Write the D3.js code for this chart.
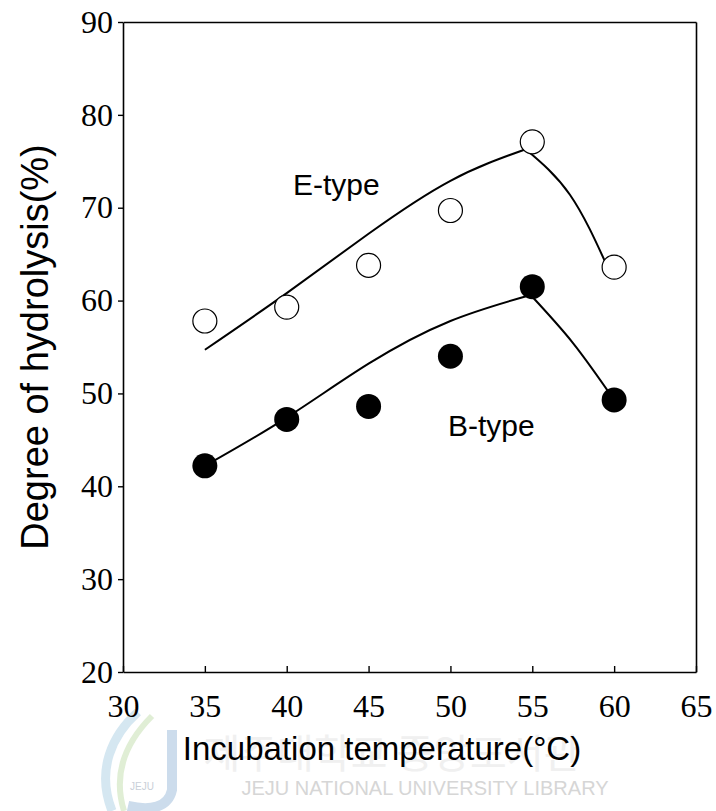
<!DOCTYPE html>
<html>
<head>
<meta charset="utf-8">
<script src="https://cdn.jsdelivr.net/npm/d3@7"></script>
<style>
  body { margin: 0; background: #fff; }
  svg { display: block; }
</style>
</head>
<body>
<div id="chart"></div>
<script>
  // data
  const temps = [35, 40, 45, 50, 55, 60];
  const eType = [57.8, 59.3, 63.8, 69.7, 77.1, 63.6];
  const bType = [42.2, 47.2, 48.6, 54.0, 61.5, 49.3];

  // hand drawn fitted curves (rising part, falling part)
  const eRiseX = [35, 40, 45, 50, 54.6];
  const eRiseY = [54.7, 60.8, 67.2, 72.9, 76.3];
  const eFallX = [54.6, 57.3, 59.6];
  const eFallY = [76.3, 71.4, 63.6];
  const bRiseX = [35, 40, 45, 50, 54.9];
  const bRiseY = [42.2, 47.4, 53.2, 57.8, 60.6];
  const bFallX = [54.9, 57.5, 60];
  const bFallY = [60.6, 55.4, 49.3];

  const xTicks = [30, 35, 40, 45, 50, 55, 60, 65];
  const yTicks = [20, 30, 40, 50, 60, 70, 80, 90];

  const width = 716;
  const height = 811;

  const svg = d3.select("#chart")
    .append("svg")
    .attr("width", width)
    .attr("height", height);

  const x = d3.scaleLinear().domain([30, 65]).range([123, 696]);
  const y = d3.scaleLinear().domain([20, 90]).range([672, 22]);

  // faint library watermark behind the x label
  const wm = svg.append("g");
  wm.append("path")
    .attr("d", "M112,811 C96,770 112,735 138,712")
    .attr("fill", "none").attr("stroke", "#d5e7f1").attr("stroke-width", 9);
  wm.append("path")
    .attr("d", "M124,811 C112,772 128,740 152,716")
    .attr("fill", "none").attr("stroke", "#e0eed5").attr("stroke-width", 6);
  wm.append("path")
    .attr("d", "M172,730 L172,790 C168,808 150,811 128,806")
    .attr("fill", "none").attr("stroke", "#ccdcec").attr("stroke-width", 10);
  wm.append("text")
    .attr("x", 142).attr("y", 790)
    .attr("text-anchor", "middle")
    .attr("font-family", "Liberation Sans, Arial, sans-serif")
    .attr("font-size", 10)
    .attr("fill", "#c9cfd8")
    .text("JEJU");
  wm.append("text")
    .attr("x", 392).attr("y", 768)
    .attr("text-anchor", "middle")
    .attr("font-family", "Noto Sans CJK KR, sans-serif")
    .attr("font-size", 40)
    .attr("fill", "#f0f0f0")
    .text("제주대학교 중앙도서관");
  wm.append("text")
    .attr("x", 425).attr("y", 795)
    .attr("text-anchor", "middle")
    .attr("font-family", "Liberation Sans, Arial, sans-serif")
    .attr("font-size", 20)
    .attr("fill", "#d6d6d6")
    .text("JEJU NATIONAL UNIVERSITY LIBRARY");

  // frame: top and right sides
  svg.append("g")
    .attr("transform", `translate(0,${y(90)})`)
    .call(d3.axisTop(x).tickValues([]).tickSizeOuter(0))
    .select(".domain").attr("stroke", "#000").attr("stroke-width", 1.6);
  svg.append("g")
    .attr("transform", `translate(${x(65)},0)`)
    .call(d3.axisRight(y).tickValues([]).tickSizeOuter(0))
    .select(".domain").attr("stroke", "#000").attr("stroke-width", 1.6);

  // x axis, ticks pointing inward
  const xAxis = svg.append("g")
    .attr("transform", `translate(0,${y(20)})`)
    .call(d3.axisBottom(x).tickValues(xTicks).tickSizeInner(-6).tickSizeOuter(0).tickPadding(22));
  xAxis.selectAll("text")
    .attr("font-family", "Liberation Serif, Times New Roman, serif")
    .attr("font-size", 32)
    .attr("fill", "#000");

  // y axis, ticks pointing outward
  const yAxis = svg.append("g")
    .attr("transform", `translate(${x(30)},0)`)
    .call(d3.axisLeft(y).tickValues(yTicks).tickSizeInner(5).tickSizeOuter(0).tickPadding(5));
  yAxis.selectAll("text")
    .attr("font-family", "Liberation Serif, Times New Roman, serif")
    .attr("font-size", 32)
    .attr("fill", "#000");

  [xAxis, yAxis].forEach(function (a) {
    a.selectAll(".domain").attr("stroke", "#000").attr("stroke-width", 1.6);
    a.selectAll(".tick line").attr("stroke", "#000").attr("stroke-width", 1.4);
  });

  // fitted curves
  const line = d3.line()
    .x(function (d) { return x(d[0]); })
    .y(function (d) { return y(d[1]); })
    .curve(d3.curveNatural);

  [[eRiseX, eRiseY], [eFallX, eFallY], [bRiseX, bRiseY], [bFallX, bFallY]].forEach(function (s) {
    svg.append("path")
      .datum(d3.zip(s[0], s[1]))
      .attr("fill", "none")
      .attr("stroke", "#000")
      .attr("stroke-width", 2)
      .attr("d", line);
  });

  // markers
  svg.append("g").selectAll("circle")
    .data(d3.zip(temps, eType))
    .join("circle")
    .attr("cx", function (d) { return x(d[0]); })
    .attr("cy", function (d) { return y(d[1]); })
    .attr("r", 12)
    .attr("fill", "#fff")
    .attr("stroke", "#000")
    .attr("stroke-width", 1.2);

  svg.append("g").selectAll("circle")
    .data(d3.zip(temps, bType))
    .join("circle")
    .attr("cx", function (d) { return x(d[0]); })
    .attr("cy", function (d) { return y(d[1]); })
    .attr("r", 12.5)
    .attr("fill", "#000");

  // series labels
  svg.append("text")
    .attr("x", 293).attr("y", 195)
    .attr("font-family", "Liberation Sans, Arial, sans-serif")
    .attr("font-size", 30)
    .text("E-type");
  svg.append("text")
    .attr("x", 448).attr("y", 436)
    .attr("font-family", "Liberation Sans, Arial, sans-serif")
    .attr("font-size", 30)
    .text("B-type");

  // axis titles
  svg.append("text")
    .attr("transform", "translate(48,347) rotate(-90)")
    .attr("text-anchor", "middle")
    .attr("font-family", "Liberation Sans, Arial, sans-serif")
    .attr("font-size", 38)
    .text("Degree of hydrolysis(%)");
  svg.append("text")
    .attr("x", 382).attr("y", 760)
    .attr("text-anchor", "middle")
    .attr("font-family", "Liberation Sans, Arial, sans-serif")
    .attr("font-size", 33)
    .text("Incubation temperature(°C)");
</script>
</body>
</html>
